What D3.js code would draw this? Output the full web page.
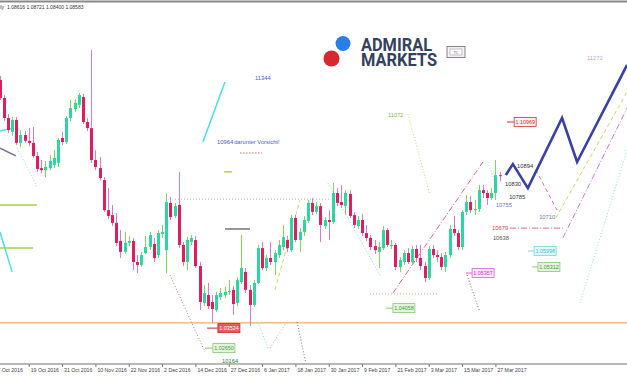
<!DOCTYPE html>
<html>
<head>
<meta charset="utf-8">
<script src="https://cdn.jsdelivr.net/npm/d3@7"></script>
<style>
  body { margin: 0; background: #ffffff; }
  svg { display: block; }
  text { font-family: "Liberation Sans", Arial, sans-serif; }
</style>
</head>
<body>
<div id="chart"></div>
<script>
// EURUSD daily candles, 7 Oct 2016 .. 28 Mar 2017 (index 0..121)
var opens = [1.1225,1.1190,1.1128,1.1059,1.1011,1.1052,1.0973,1.1000,1.0980,1.0973,
  1.0928,1.0886,1.0879,1.0886,1.0897,1.0904,1.0990,1.0976,1.1059,1.1090,
  1.1104,1.1131,1.1045,1.1024,1.0914,1.0886,1.0845,1.0741,1.0724,1.0697,
  1.0635,1.0597,1.0628,1.0635,1.0562,1.0552,1.0593,1.0614,1.0624,1.0586,
  1.0659,1.0603,1.0766,1.0721,1.0759,1.0621,1.0562,1.0631,1.0638,1.0548,
  1.0421,1.0448,1.0424,1.0396,1.0441,1.0448,1.0459,1.0466,1.0421,1.0493,
  1.0528,1.0466,1.0414,1.0490,1.0610,1.0541,1.0576,1.0562,1.0586,1.0614,
  1.0638,1.0603,1.0714,1.0638,1.0666,1.0704,1.0766,1.0735,1.0755,1.0686,
  1.0707,1.0700,1.0800,1.0769,1.0755,1.0797,1.0724,1.0686,1.0707,1.0662,
  1.0645,1.0617,1.0597,1.0610,1.0672,1.0617,1.0621,1.0545,1.0562,1.0593,
  1.0562,1.0607,1.0576,1.0548,1.0507,1.0607,1.0586,1.0579,1.0545,1.0586,
  1.0676,1.0662,1.0614,1.0735,1.0769,1.0741,1.0745,1.0810,1.0800,1.0783,
  1.0800,1.08616];
var highs = [1.1240,1.1204,1.1138,1.1073,1.1062,1.1062,1.1017,1.1014,1.1024,1.1028,
  1.0942,1.0914,1.0911,1.0931,1.0948,1.0990,1.1011,1.1066,1.1121,1.1124,
  1.1145,1.1142,1.1059,1.1294,1.0948,1.0924,1.0855,1.0817,1.0759,1.0731,
  1.0672,1.0666,1.0652,1.0645,1.0586,1.0597,1.0652,1.0666,1.0645,1.0672,
  1.0690,1.0800,1.0786,1.0766,1.0873,1.0631,1.0648,1.0655,1.0652,1.0562,
  1.0483,1.0490,1.0448,1.0459,1.0472,1.0476,1.0500,1.0479,1.0510,1.0655,
  1.0541,1.0483,1.0500,1.0621,1.0631,1.0586,1.0631,1.0603,1.0638,1.0690,
  1.0652,1.0724,1.0724,1.0679,1.0721,1.0776,1.0783,1.0769,1.0766,1.0717,
  1.0741,1.0835,1.0817,1.0828,1.0810,1.0810,1.0735,1.0721,1.0728,1.0690,
  1.0655,1.0638,1.0631,1.0686,1.0679,1.0638,1.0628,1.0579,1.0603,1.0610,
  1.0617,1.0621,1.0621,1.0562,1.0617,1.0621,1.0603,1.0593,1.0597,1.0690,
  1.0721,1.0672,1.0741,1.0793,1.0790,1.0776,1.0828,1.0828,1.0810,1.0817,
  1.0914,1.08721];
var lows = [1.1176,1.1121,1.1048,1.1007,1.0997,1.0966,1.0959,1.0973,1.0962,1.0921,
  1.0873,1.0869,1.0855,1.0879,1.0886,1.0890,1.0966,1.0969,1.1048,1.1079,
  1.1093,1.1038,1.1014,1.0904,1.0879,1.0842,1.0735,1.0710,1.0686,1.0617,
  1.0576,1.0590,1.0617,1.0534,1.0524,1.0545,1.0590,1.0603,1.0562,1.0576,
  1.0645,1.0524,1.0707,1.0714,1.0610,1.0548,1.0534,1.0621,1.0541,1.0396,
  1.0410,1.0400,1.0352,1.0390,1.0431,1.0438,1.0448,1.0379,1.0410,1.0486,
  1.0455,1.0341,1.0407,1.0486,1.0534,1.0531,1.0552,1.0517,1.0576,1.0603,
  1.0597,1.0597,1.0631,1.0597,1.0652,1.0697,1.0724,1.0728,1.0631,1.0676,
  1.0638,1.0693,1.0755,1.0748,1.0724,1.0714,1.0679,1.0676,1.0652,1.0635,
  1.0603,1.0590,1.0541,1.0603,1.0614,1.0607,1.0534,1.0528,1.0552,1.0555,
  1.0552,1.0562,1.0534,1.0493,1.0500,1.0576,1.0562,1.0534,1.0528,1.0576,
  1.0652,1.0603,1.0603,1.0724,1.0731,1.0724,1.0735,1.0783,1.0759,1.0776,
  1.0776,1.08400];
var closes = [1.1190,1.1128,1.1059,1.1017,1.1052,1.0973,1.1000,1.0980,1.0973,1.0928,
  1.0883,1.0879,1.0890,1.0911,1.0921,1.0983,1.0976,1.1059,1.1093,1.1111,
  1.1138,1.1045,1.1024,1.0914,1.0890,1.0852,1.0741,1.0721,1.0697,1.0628,
  1.0597,1.0628,1.0635,1.0562,1.0552,1.0586,1.0614,1.0655,1.0576,1.0662,
  1.0666,1.0769,1.0717,1.0755,1.0621,1.0562,1.0638,1.0645,1.0548,1.0424,
  1.0455,1.0410,1.0400,1.0448,1.0455,1.0459,1.0462,1.0417,1.0500,1.0541,
  1.0466,1.0414,1.0490,1.0610,1.0541,1.0576,1.0562,1.0593,1.0621,1.0648,
  1.0610,1.0714,1.0638,1.0666,1.0707,1.0766,1.0735,1.0755,1.0690,1.0707,
  1.0700,1.0800,1.0766,1.0759,1.0800,1.0721,1.0690,1.0707,1.0662,1.0645,
  1.0614,1.0603,1.0614,1.0672,1.0621,1.0621,1.0545,1.0569,1.0593,1.0562,
  1.0607,1.0576,1.0548,1.0507,1.0607,1.0586,1.0579,1.0545,1.0586,1.0676,
  1.0662,1.0614,1.0735,1.0769,1.0741,1.0745,1.0810,1.0800,1.0783,1.0800,
  1.0862,1.08583];

var tickIdx = [0, 8, 16, 24, 32, 40, 48, 56, 64, 72, 80, 88, 96, 104, 112, 120];
var tickLabels = ['7 Oct 2016', '19 Oct 2016', '31 Oct 2016', '10 Nov 2016', '22 Nov 2016',
  '2 Dec 2016', '14 Dec 2016', '27 Dec 2016', '6 Jan 2017', '18 Jan 2017', '30 Jan 2017',
  '9 Feb 2017', '21 Feb 2017', '3 Mar 2017', '15 Mar 2017', '27 Mar 2017'];

var headerValues = ['1.08616', '1.08721', '1.08400', '1.08583'];

// projected path (bar index, price)
var zzIdx = [122.5, 124.2, 127.8, 136.0, 139.6, 151.6];
var zzPrice = [1.0862, 1.0900, 1.0817, 1.1059, 1.0907, 1.1242];

var supportLevel = 1.0352;

// drawn guide lines: kind, from (index, price) to (index, price)
var guides = [
  ['violetDash', 129.7, 1.0880, 134.8, 1.0741],
  ['violetDashDot', 136.2, 1.0645, 151.6, 1.1093],
  ['limeDash', 134.5, 1.0714, 151.6, 1.1149],
  ['cyanDot', 140.3, 1.0421, 151.6, 1.0948],
  ['pinkDashDot', 123.5, 1.0679, 136.7, 1.0679],
  ['pinkDashDot', 95.4, 1.0455, 117.0, 1.0907],
  ['cyanDot', 118.2, 1.0907, 120.1, 1.0828],
  ['limeDot', 99.0, 1.1073, 104.3, 1.0793],
  ['cyanDot', 79.8, 1.0835, 92.3, 1.0517],
  ['grayDot', 43.1, 1.0779, 80.3, 1.0779],
  ['orangeDot', 89.9, 1.0452, 106.0, 1.0452],
  ['darkDot', 113.2, 1.0517, 116.1, 1.0396],
  ['brownDot', 41.9, 1.0517, 50.3, 1.0252],
  ['cyanDot', 63.0, 1.0355, 65.4, 1.0265],
  ['orangeDot', 65.9, 1.0265, 70.2, 1.0362],
  ['darkDot', 72.4, 1.0355, 74.5, 1.0214],
  ['limeDash', 67.1, 1.0466, 73.1, 1.0776],
  ['cyan', 49.8, 1.0976, 55.1, 1.1183],
  ['lime', 54.9, 1.0873, 56.8, 1.0873],
  ['gray', 55.1, 1.0676, 61.1, 1.0676],
  ['salmonDot', 58.7, 1.0938, 64.0, 1.0938],
  ['lime', -1, 1.0759, 10.0, 1.0759],
  ['lime', -1, 1.0610, 9.0, 1.0610],
  ['cyan', 1.1, 1.0666, 4.0, 1.0528],
  ['cyan', -1, 1.1007, 4.2, 1.1024],
  ['gray', 1.1, 1.0955, 4.9, 1.0928],
  ['cyanDot', 5.2, 1.0955, 10.0, 1.0821]
];

// level notes: text, index, price, kind
var notes = [
  ['10894', 125.2, 1.0893, 'dark'],
  ['10830', 122.3, 1.0831, 'dark'],
  ['10785', 123.3, 1.0786, 'dark'],
  ['10755', 120.1, 1.0759, 'slate'],
  ['10710', 130.5, 1.0717, 'slate'],
  ['10679', 119.2, 1.0679, 'red'],
  ['10638', 119.4, 1.0645, 'gray'],
  ['11272', 142.0, 1.1266, 'lilac'],
  ['11072', 94.2, 1.1069, 'green'],
  ['11344', 62.3, 1.1197, 'blue'],
  ['10964', 53.2, 1.0976, 'blue'],
  ['darunter Vorsicht!', 57.3, 1.0976, 'blue'],
  ['10164', 54.4, 1.0221, 'darkgreen']
];

// price boxes: text, index of box, price, index where the leader starts, kind
var boxes = [
  ['1.10969', 124.5, 1.1045, 122.8, 'redOutline'],
  ['1.03524', 53.4, 1.0334, 50.8, 'red'],
  ['1.02650', 52.2, 1.0265, 50.3, 'green'],
  ['1.05357', 114.4, 1.0524, 112.9, 'magenta'],
  ['1.05312', 130.2, 1.0545, 128.8, 'green'],
  ['1.05998', 129.3, 1.0600, 127.8, 'cyan'],
  ['1.04058', 95.4, 1.0403, 93.7, 'green']
];

function drawChart() {
  var width = 627, height = 376;

  var svg = d3.select('#chart').append('svg')
    .attr('width', width)
    .attr('height', height)
    .style('background', '#ffffff');

  var x = d3.scaleLinear().domain([0, 150]).range([-4.6, 620.4]);
  var y = d3.scaleLinear().domain([1.01688, 1.1466]).range([height, 0]);

  var guideStyle = {
    violetDash:    { stroke: '#c77ad6', dash: '4,3', w: 1 },
    violetDashDot: { stroke: '#c77ad6', dash: '6,2,1,2', w: 1 },
    limeDash:      { stroke: '#c9dc6c', dash: '4,3', w: 1 },
    cyanDot:       { stroke: '#86dfe8', dash: '1,2', w: 1 },
    pinkDashDot:   { stroke: '#e06a8a', dash: '6,2,1,2', w: 1 },
    limeDot:       { stroke: '#c5dc7a', dash: '1,2', w: 1 },
    grayDot:       { stroke: '#9fbfae', dash: '1,2', w: 1 },
    orangeDot:     { stroke: '#ee9f7a', dash: '1,2', w: 1 },
    darkDot:       { stroke: '#777777', dash: '1,2', w: 1 },
    brownDot:      { stroke: '#c07a6a', dash: '1,2', w: 1 },
    cyan:          { stroke: '#49dfe6', dash: null, w: 1.5 },
    lime:          { stroke: '#a3d646', dash: null, w: 1.5 },
    gray:          { stroke: '#6f7480', dash: null, w: 1.5 },
    salmonDot:     { stroke: '#e3a08c', dash: '1.5,1.5', w: 1.5 }
  };

  var noteColor = {
    dark: '#333333', slate: '#6c7bb6', red: '#e04848', gray: '#555555',
    lilac: '#c9a6d8', green: '#86b840', blue: '#4a5ad4', darkgreen: '#2e7a34'
  };

  var boxStyle = {
    red:        { fill: '#e65a5e', stroke: '#c82a2a', text: '#ffffff' },
    redOutline: { fill: '#fff0f0', stroke: '#d83030', text: '#d83030' },
    green:      { fill: '#e3f5dc', stroke: '#86c878', text: '#4a9a40' },
    magenta:    { fill: '#fbe6fb', stroke: '#d468d4', text: '#c040c0' },
    cyan:       { fill: '#e2fafc', stroke: '#6fd8e6', text: '#3cbcd4' }
  };

  // frame line at the top
  svg.append('line')
    .attr('x1', 0).attr('x2', width).attr('y1', 1.5).attr('y2', 1.5)
    .attr('stroke', '#8a8a8a').attr('stroke-width', 2);

  // support level
  svg.append('line')
    .attr('x1', 0).attr('x2', width)
    .attr('y1', y(supportLevel)).attr('y2', y(supportLevel))
    .attr('stroke', '#e9b25e').attr('stroke-width', 1.2);

  // guide lines
  svg.append('g').selectAll('line').data(guides)
    .enter().append('line')
    .attr('x1', function(d) { return x(d[1]); })
    .attr('y1', function(d) { return y(d[2]); })
    .attr('x2', function(d) { return x(d[3]); })
    .attr('y2', function(d) { return y(d[4]); })
    .attr('stroke', function(d) { return guideStyle[d[0]].stroke; })
    .attr('stroke-width', function(d) { return guideStyle[d[0]].w; })
    .attr('stroke-dasharray', function(d) { return guideStyle[d[0]].dash; });

  // candles
  var bars = d3.range(closes.length);
  var bullBody = '#2bd6a4', bearBody = '#de1f5c';
  var bullWick = '#7fd65a', bearWick = '#d47ad8';

  var candles = svg.append('g');
  candles.selectAll('line').data(bars)
    .enter().append('line')
    .attr('x1', function(i) { return Math.round(x(i)) + 0.5; })
    .attr('x2', function(i) { return Math.round(x(i)) + 0.5; })
    .attr('y1', function(i) { return y(highs[i]); })
    .attr('y2', function(i) { return y(lows[i]); })
    .attr('stroke', function(i) { return closes[i] >= opens[i] ? bullWick : bearWick; })
    .attr('stroke-width', 1);

  candles.selectAll('rect').data(bars)
    .enter().append('rect')
    .attr('x', function(i) { return Math.round(x(i)) - 1; })
    .attr('width', 3)
    .attr('y', function(i) { return y(Math.max(opens[i], closes[i])); })
    .attr('height', function(i) {
      return Math.max(1, Math.abs(y(opens[i]) - y(closes[i])));
    })
    .attr('fill', function(i) { return closes[i] >= opens[i] ? bullBody : bearBody; });

  // projected zigzag
  var zz = d3.line()
    .x(function(d) { return x(d[0]); })
    .y(function(d) { return y(d[1]); });
  svg.append('path')
    .datum(d3.zip(zzIdx, zzPrice))
    .attr('d', zz)
    .attr('fill', 'none')
    .attr('stroke', '#3a40a6')
    .attr('stroke-width', 2.6)
    .attr('stroke-linejoin', 'miter');

  // notes
  svg.append('g').selectAll('text').data(notes)
    .enter().append('text')
    .attr('x', function(d) { return x(d[1]); })
    .attr('y', function(d) { return y(d[2]); })
    .attr('dy', '0.35em')
    .style('font-size', '5.8px')
    .attr('fill', function(d) { return noteColor[d[3]]; })
    .text(function(d) { return d[0]; });

  // price boxes
  var bx = svg.append('g').selectAll('g').data(boxes)
    .enter().append('g');
  bx.append('line')
    .attr('x1', function(d) { return x(d[3]); })
    .attr('x2', function(d) { return x(d[1]); })
    .attr('y1', function(d) { return y(d[2]); })
    .attr('y2', function(d) { return y(d[2]); })
    .attr('stroke', function(d) { return boxStyle[d[4]].stroke; });
  bx.append('rect')
    .attr('x', function(d) { return x(d[1]); })
    .attr('y', function(d) { return y(d[2]) - 4.5; })
    .attr('width', 22).attr('height', 9)
    .attr('fill', function(d) { return boxStyle[d[4]].fill; })
    .attr('stroke', function(d) { return boxStyle[d[4]].stroke; })
    .attr('stroke-width', 0.8);
  bx.append('text')
    .attr('x', function(d) { return x(d[1]) + 11; })
    .attr('y', function(d) { return y(d[2]); })
    .attr('dy', '0.35em')
    .attr('text-anchor', 'middle')
    .style('font-size', '5.4px')
    .attr('fill', function(d) { return boxStyle[d[4]].text; })
    .text(function(d) { return d[0]; });

  // time axis
  var axisY = 364;
  svg.append('line')
    .attr('x1', 0).attr('x2', width).attr('y1', axisY).attr('y2', axisY)
    .attr('stroke', '#a0a0a0').attr('stroke-width', 1.5);

  var hAxis = d3.axisBottom(x)
    .tickValues(tickIdx)
    .tickSize(3)
    .tickFormat(function(d, i) { return tickLabels[i]; });
  var horizontalGuide = svg.append('g')
    .attr('transform', 'translate(0,' + axisY + ')');
  hAxis(horizontalGuide);
  horizontalGuide.select('.domain').remove();
  horizontalGuide.selectAll('line').attr('stroke', '#777');
  horizontalGuide.selectAll('text')
    .attr('text-anchor', 'start')
    .attr('x', 1.5)
    .attr('y', 4)
    .attr('dy', '0.71em')
    .attr('fill', '#444')
    .style('font-family', '"Liberation Sans", Arial, sans-serif')
    .style('font-size', '5.2px');

  // header: symbol (cut by the left edge) and OHLC of the last bar
  svg.append('text')
    .attr('x', 4).attr('y', 8.5)
    .attr('text-anchor', 'end')
    .style('font-size', '5px')
    .attr('fill', '#333')
    .text('EURUSD,Daily');
  svg.append('text')
    .attr('x', 7).attr('y', 8.5)
    .style('font-size', '5px')
    .attr('fill', '#333')
    .text(headerValues.join(' '));

  // logo
  var logo = svg.append('g');
  logo.append('circle').attr('cx', 343).attr('cy', 43.5).attr('r', 7.5).attr('fill', '#2a7fe6');
  logo.append('circle').attr('cx', 331.5).attr('cy', 58.5).attr('r', 8).attr('fill', '#d6282e');
  var brand = logo.append('text')
    .style('font-family', 'Roboto, "Liberation Sans", sans-serif')
    .style('font-weight', 700).style('font-size', '19px')
    .attr('fill', '#34425e');
  brand.append('tspan')
    .attr('x', 361).attr('y', 50.5)
    .attr('textLength', 71).attr('lengthAdjust', 'spacingAndGlyphs')
    .text('ADMIRAL');
  brand.append('tspan')
    .attr('x', 361).attr('y', 66)
    .attr('textLength', 76).attr('lengthAdjust', 'spacingAndGlyphs')
    .text('MARKETS');
  logo.append('rect')
    .attr('x', 447).attr('y', 46.5).attr('width', 18).attr('height', 11)
    .attr('fill', '#f4f4f6').attr('stroke', '#8a7f8e').attr('stroke-width', 1);
  logo.append('rect')
    .attr('x', 450).attr('y', 49).attr('width', 12).attr('height', 6)
    .attr('fill', '#ffffff').attr('stroke', '#9a9aa0').attr('stroke-width', 0.6);
  logo.append('text')
    .attr('x', 456).attr('y', 53.5)
    .attr('text-anchor', 'middle')
    .style('font-size', '3.5px')
    .attr('fill', '#555')
    .text('TC');
}

drawChart();
</script>
</body>
</html>
